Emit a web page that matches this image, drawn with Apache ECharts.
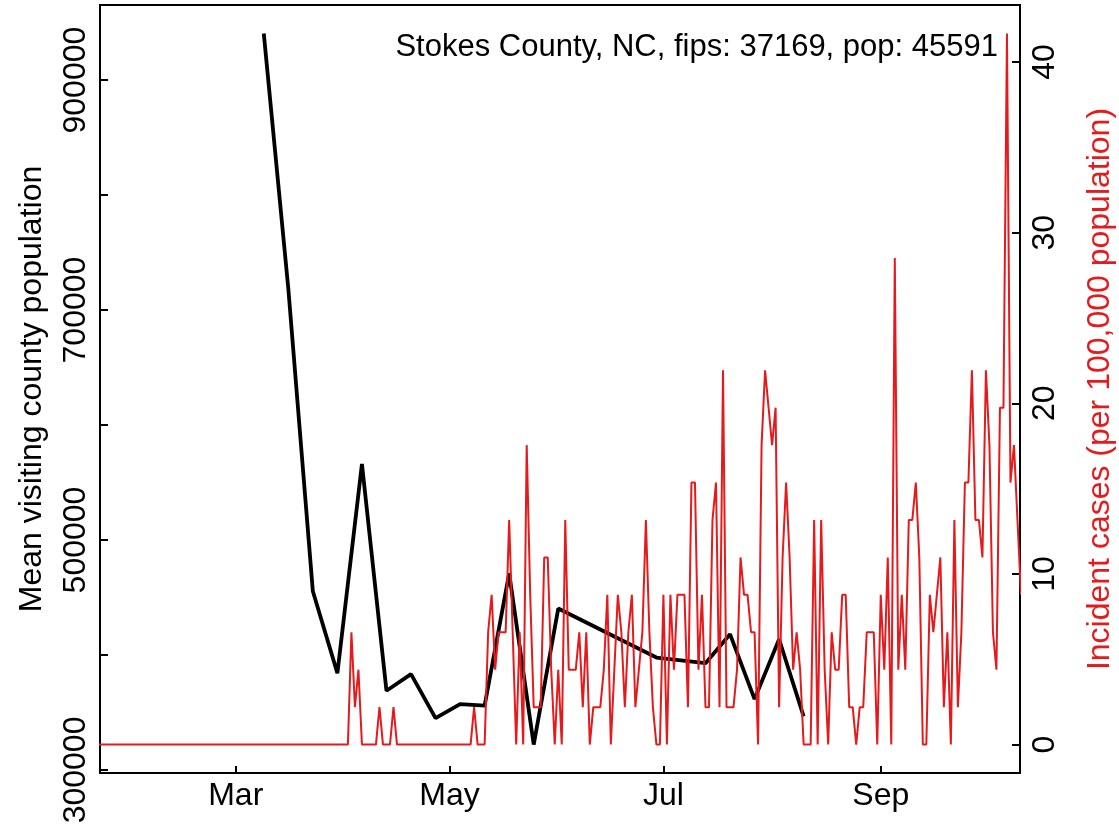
<!DOCTYPE html>
<html>
<head>
<meta charset="utf-8">
<script src="https://cdn.jsdelivr.net/npm/echarts@6/dist/echarts.min.js"></script>
<style>
  html, body { margin: 0; padding: 0; background: #fff; }
  #main { width: 1119px; height: 826px; }
</style>
</head>
<body>
<div id="main"></div>
<script>
const countyLabel = 'Stokes County, NC, fips: 37169, pop: 45591'
const countyPop = 45591

// weekly mean visiting county population (black line)
const visitDates = ['2020-03-09', '2020-03-16', '2020-03-23', '2020-03-30', '2020-04-06',
  '2020-04-13', '2020-04-20', '2020-04-27', '2020-05-04', '2020-05-11', '2020-05-18',
  '2020-05-25', '2020-06-01', '2020-06-29', '2020-07-13', '2020-07-20', '2020-07-27',
  '2020-08-03', '2020-08-10']
const visitPop = [940600, 718700, 455400, 384200, 566200, 368900, 383300, 345100, 357300,
  355900, 471000, 322100, 440400, 397800, 392900, 418100, 361600, 413700, 346600]

// daily new cases, one per day starting at caseStart (red line)
const caseStart = '2020-01-21'
const dailyCases = [
  0, 0, 0, 0, 0, 0, 0, 0, 0, 0,
  0, 0, 0, 0, 0, 0, 0, 0, 0, 0,
  0, 0, 0, 0, 0, 0, 0, 0, 0, 0,
  0, 0, 0, 0, 0, 0, 0, 0, 0, 0,
  0, 0, 0, 0, 0, 0, 0, 0, 0, 0,
  0, 0, 0, 0, 0, 0, 0, 0, 0, 0,
  0, 0, 0, 0, 0, 0, 0, 0, 0, 0,
  0, 0, 0, 3, 1, 2, 0, 0, 0, 0,
  0, 1, 0, 0, 0, 1, 0, 0, 0, 0,
  0, 0, 0, 0, 0, 0, 0, 0, 0, 0,
  0, 0, 0, 0, 0, 0, 0, 0, 1, 0,
  0, 0, 3, 4, 2, 3, 3, 3, 6, 3,
  0, 3, 0, 8, 4, 1, 1, 1, 5, 5,
  2, 0, 2, 0, 6, 2, 2, 2, 3, 1,
  3, 0, 1, 1, 1, 2, 4, 0, 2, 4,
  3, 1, 3, 4, 1, 2, 3, 6, 3, 1,
  0, 0, 4, 0, 4, 2, 4, 4, 4, 1,
  7, 7, 2, 4, 1, 1, 6, 7, 1, 10,
  1, 1, 1, 2, 5, 4, 4, 3, 3, 0,
  8, 10, 9, 8, 9, 1, 5, 7, 5, 2,
  3, 2, 0, 0, 0, 6, 0, 6, 2, 0,
  3, 2, 2, 4, 4, 1, 1, 0, 1, 1,
  3, 3, 3, 0, 4, 2, 5, 0, 13, 2,
  4, 2, 6, 6, 7, 5, 0, 0, 4, 3,
  4, 5, 1, 3, 0, 6, 1, 3, 7, 7,
  10, 6, 6, 5, 10, 8, 3, 2, 9, 9,
  19, 7, 8, 6, 4
]

// axis ticks
const xTickDates = ['2020-03-01', '2020-05-01', '2020-07-01', '2020-09-01']
const xTickNames = ['Mar', 'May', 'Jul', 'Sep']
const xRange = ['2020-02-01', '2020-10-01']
const leftTicks = [300000, 400000, 500000, 600000, 700000, 800000, 900000]
const leftLabels = [300000, 500000, 700000, 900000]
const rightTicks = [0, 10, 20, 30, 40]

const DAY = 86400000
const red = '#e41a1c'
const font = 'Liberation Sans, Arial, Helvetica, sans-serif'
const fs = 32

function toTime(s) {
  const p = s.split('-').map(Number)
  return Date.UTC(p[0], p[1] - 1, p[2])
}
// R style 4% padding
function padded(lo, hi) {
  const d = (hi - lo) * 0.04
  return [lo - d, hi + d]
}

const visitData = visitDates.map((d, i) => [toTime(d), visitPop[i]])
const t0 = toTime(caseStart)
const caseData = dailyCases.map((c, i) => [t0 + i * DAY, c / countyPop * 100000])
const caseVals = caseData.map((p) => p[1])

const xLim = padded(toTime(xRange[0]), toTime(xRange[1]))
const yLeft = padded(Math.min(...visitPop), Math.max(...visitPop))
const yRight = padded(Math.min(...caseVals), Math.max(...caseVals))
const xTicks = xTickDates.map(toTime)

const chart = echarts.init(document.getElementById('main'), null, { renderer: 'canvas' })
const option = {
  animation: false,
  backgroundColor: '#fff',
  textStyle: { fontFamily: font },
  title: {
    text: countyLabel,
    right: 116,
    top: 27,
    textStyle: { fontFamily: font, fontSize: 31, fontWeight: 'normal', color: '#000' },
  },
  grid: {
    left: 100,
    right: 99,
    top: 5,
    bottom: 53,
    show: true,
    borderColor: '#000',
    borderWidth: 2,
    outerBoundsMode: 'none',
  },
  xAxis: {
    type: 'value',
    min: xLim[0],
    max: xLim[1],
    splitLine: { show: false },
    axisLine: { onZero: false, lineStyle: { color: '#000', width: 2 } },
    axisTick: { inside: true, length: 7, lineStyle: { color: '#000', width: 2 }, customValues: xTicks },
    axisLabel: {
      customValues: xTicks,
      margin: 7,
      fontSize: fs,
      fontFamily: font,
      color: '#000',
      formatter: (v) => xTickNames[xTicks.indexOf(v)] || '',
    },
  },
  yAxis: [
    {
      type: 'value',
      position: 'left',
      min: yLeft[0],
      max: yLeft[1],
      name: 'Mean visiting county population',
      nameLocation: 'middle',
      nameRotate: 90,
      nameGap: 52,
      nameTextStyle: { fontSize: fs, fontFamily: font, color: '#000' },
      splitLine: { show: false },
      axisLine: { show: true, onZero: false, lineStyle: { color: '#000', width: 2 } },
      axisTick: { show: true, inside: true, length: 8, lineStyle: { color: '#000', width: 2 }, customValues: leftTicks },
      axisLabel: {
        customValues: leftLabels,
        rotate: 90,
        margin: 8,
        fontSize: fs,
        fontFamily: font,
        color: '#000',
        formatter: (v) => String(v),
      },
    },
    {
      type: 'value',
      position: 'right',
      min: yRight[0],
      max: yRight[1],
      name: 'Incident cases (per 100,000 population)',
      nameLocation: 'middle',
      nameRotate: 90,
      nameGap: 64,
      nameTextStyle: { fontSize: fs, fontFamily: font, color: red },
      splitLine: { show: false },
      axisLine: { show: true, onZero: false, lineStyle: { color: '#000', width: 2 } },
      axisTick: { show: true, inside: true, length: 8, lineStyle: { color: '#000', width: 2 }, customValues: rightTicks },
      axisLabel: {
        customValues: rightTicks,
        rotate: 90,
        margin: 9,
        fontSize: fs,
        fontFamily: font,
        color: '#000',
        formatter: (v) => String(v),
      },
    },
  ],
  series: [
    {
      name: 'visiting',
      type: 'line',
      yAxisIndex: 0,
      data: visitData,
      showSymbol: false,
      symbol: 'none',
      lineStyle: { color: '#000', width: 3.8 },
      z: 2,
    },
    {
      name: 'cases',
      type: 'line',
      yAxisIndex: 1,
      data: caseData,
      showSymbol: false,
      symbol: 'none',
      clip: true,
      lineStyle: { color: red, width: 2 },
      z: 3,
    },
  ],
}
chart.setOption(option)
</script>
</body>
</html>
